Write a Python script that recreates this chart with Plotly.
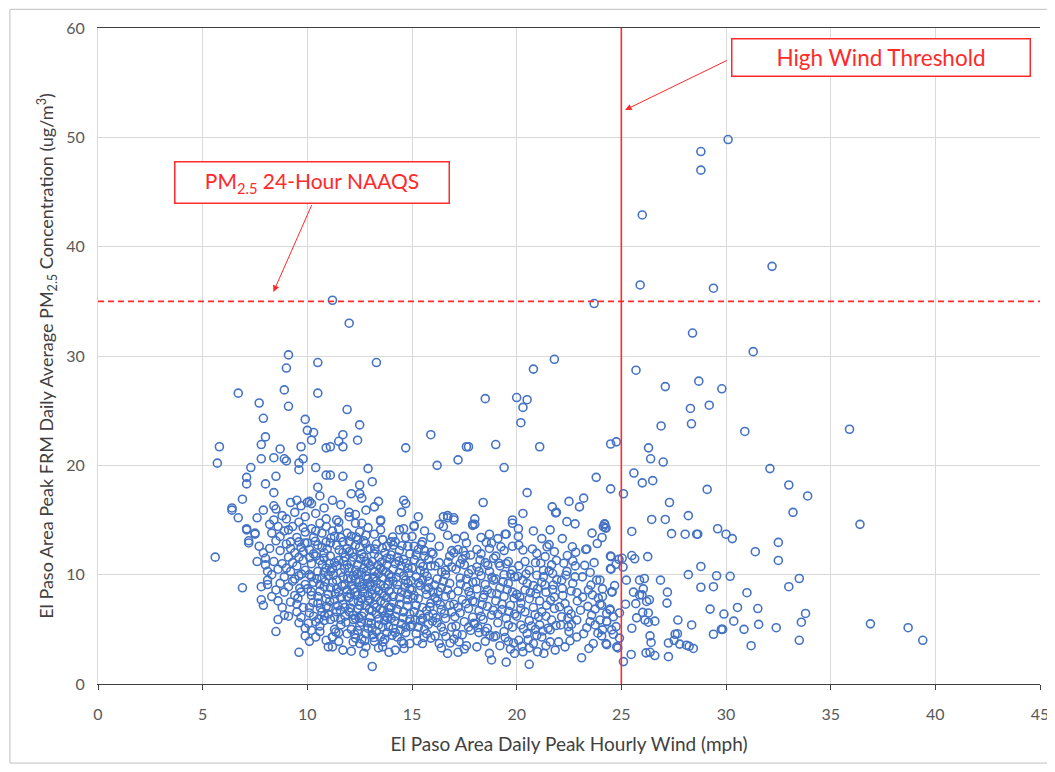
import plotly.graph_objects as go

# ---------------- data (wind mph, PM2.5 ug/m3) ----------------
NAAQS = 35
HIGH_WIND = 25

left_points = [
    (5.6, 11.6), (5.7, 20.2), (5.8, 21.7), (6.4, 16.1), (6.7, 26.6), (6.9, 16.9), (6.9, 8.8),
    (7.1, 18.9), (7.1, 18.3), (7.1, 14.1), (7.2, 13.1), (7.3, 19.8), (7.5, 13.7), (7.6, 15.2),
    (6.7, 15.2), (7.7, 25.7), (7.9, 24.3), (7.8, 21.9), (8.0, 22.6), (7.8, 20.6), (8.4, 20.7),
    (8.9, 20.6), (9.0, 20.4), (9.6, 20.2), (9.8, 20.6), (9.6, 19.6), (8.5, 19.0), (8.0, 18.3),
    (8.4, 17.5), (8.7, 21.5), (9.7, 21.7), (9.1, 30.1), (9.0, 28.9), (8.9, 26.9), (9.1, 25.4),
    (9.9, 24.2), (10.0, 23.2), (10.3, 23.0), (10.2, 22.3), (10.9, 21.6), (10.5, 29.4),
    (10.5, 26.6), (10.4, 19.8), (10.9, 19.1), (10.5, 18.0), (10.6, 17.2), (9.5, 16.8),
    (10.0, 16.6), (10.2, 16.5), (11.2, 16.8), (8.4, 16.3), (7.9, 15.9), (6.4, 15.9),
    (9.6, 2.9), (8.5, 4.8), (8.6, 5.9),
]

upper_mid_points = [
    (11.2, 35.1), (12.0, 33.0), (13.3, 29.4), (11.9, 25.1), (12.5, 23.7), (11.7, 22.8),
    (11.5, 22.2), (12.4, 22.3), (11.7, 21.7), (11.1, 21.7), (14.7, 21.6), (15.9, 22.8),
    (17.6, 21.7), (17.2, 20.5), (16.2, 20.0), (12.9, 19.7), (11.7, 19.0), (11.1, 19.1),
    (13.1, 18.5), (12.5, 18.2), (12.1, 17.4), (12.5, 17.4), (12.6, 17.0), (11.6, 16.4),
    (13.4, 16.7), (13.2, 16.2), (14.6, 16.8), (14.7, 16.5), (14.5, 15.7), (12.0, 15.7),
    (12.3, 15.5), (16.5, 15.3), (16.7, 15.4), (17.0, 15.2), (13.5, 15.0),
    (21.8, 29.7), (20.8, 28.8), (18.5, 26.1), (20.0, 26.2), (20.5, 26.0), (20.3, 25.3),
    (20.2, 23.9), (17.7, 21.7), (19.0, 21.9), (21.1, 21.7), (19.4, 19.8), (20.5, 17.5),
    (18.4, 16.6), (22.5, 16.7), (23.2, 17.0), (21.7, 16.2), (21.9, 15.7), (23.0, 16.2),
    (20.3, 15.6), (18.0, 15.1), (19.8, 15.0), (23.7, 34.8), (23.8, 18.9),
]

band_08_09 = [
    (7.7, 12.6), (7.9, 12.0), (8.0, 11.5), (8.0, 10.9), (8.1, 10.3), (8.1, 9.5), (7.8, 8.9),
    (8.1, 9.1), (7.8, 7.7), (7.9, 7.2), (8.5, 8.6), (8.3, 10.0), (8.4, 11.2), (8.2, 12.4),
    (8.5, 13.1), (8.3, 13.8), (8.6, 14.4), (8.4, 15.0), (8.8, 15.4), (8.9, 14.0), (8.7, 12.2),
    (8.8, 11.0), (8.6, 10.5), (8.9, 9.8), (8.7, 9.2), (8.9, 8.4), (8.6, 7.6), (8.8, 7.0),
    (8.9, 6.3), (9.0, 12.8), (8.2, 14.6), (7.6, 11.2), (8.3, 8.0), (8.7, 13.5), (8.5, 16.0),
    (7.1, 14.2), (7.5, 13.8), (7.2, 12.9),
]

band_09_10 = [
    (9.1, 6.2), (9.6, 5.6), (9.9, 5.1), (9.2, 7.5), (9.4, 8.1), (9.1, 8.9), (9.3, 9.4),
    (9.6, 9.9), (9.2, 10.3), (9.5, 10.8), (9.8, 11.3), (9.1, 11.6), (9.4, 12.0), (9.7, 12.5),
    (9.2, 13.0), (9.5, 13.4), (9.9, 13.9), (9.3, 14.4), (9.6, 14.8), (9.9, 15.3), (9.4, 15.7),
    (9.7, 16.3), (9.2, 16.6), (9.0, 10.6), (9.8, 7.0), (9.5, 6.6), (9.7, 8.4), (9.9, 9.1),
    (9.3, 11.1), (9.8, 12.1), (9.6, 13.0), (9.1, 14.1), (9.9, 10.4), (9.5, 7.3), (9.2, 12.4),
    (9.8, 14.3), (9.6, 11.6), (9.4, 9.6), (9.0, 15.1), (9.7, 6.1), (9.9, 4.4),
]

band_10_11 = [
    (10.1, 3.9), (10.4, 4.3), (10.9, 4.0), (11.0, 3.4), (10.2, 4.9), (10.6, 5.3), (10.8, 5.8),
    (10.3, 6.2), (10.7, 6.6), (10.1, 7.0), (10.5, 7.4), (10.9, 7.8), (10.2, 8.1), (10.6, 8.5),
    (10.8, 8.9), (10.3, 9.3), (10.7, 9.7), (10.1, 10.0), (10.5, 10.3), (10.9, 10.6), (10.2, 11.0),
    (10.6, 11.3), (10.4, 11.7), (10.8, 12.0), (10.1, 12.3), (10.5, 12.7), (10.9, 13.0),
    (10.3, 13.4), (10.7, 13.8), (10.2, 14.2), (10.6, 14.7), (10.9, 15.1), (10.4, 15.6),
    (10.8, 16.1), (10.1, 16.7), (10.4, 5.7), (10.0, 8.7), (10.8, 10.2), (10.3, 11.9),
    (10.6, 9.1), (10.1, 6.5), (10.9, 7.1), (10.7, 12.5), (10.4, 14.0), (10.6, 4.8), (10.2, 9.8),
    (10.8, 11.5), (10.5, 8.0), (10.0, 12.9), (10.9, 14.4),
]

band_11_12 = [
    (11.2, 3.4), (11.5, 3.9), (11.2, 4.3), (11.7, 3.1), (11.9, 4.6), (11.3, 5.0), (11.6, 5.4),
    (11.1, 5.9), (11.8, 6.2), (11.4, 6.6), (11.0, 7.0), (11.7, 7.3), (11.3, 7.7), (11.9, 8.0),
    (11.5, 8.4), (11.1, 8.8), (11.8, 9.1), (11.4, 9.5), (11.0, 9.9), (11.6, 10.2), (11.2, 10.6),
    (11.9, 10.9), (11.5, 11.3), (11.1, 11.7), (11.7, 12.0), (11.4, 12.7), (11.1, 12.9),
    (11.7, 13.0), (11.3, 13.5), (11.9, 13.8), (11.5, 14.2), (11.4, 15.0), (11.5, 14.8),
    (12.0, 15.3), (11.3, 6.1), (11.6, 7.9), (11.2, 9.3), (11.8, 11.6), (11.4, 10.8),
    (11.0, 8.2), (11.6, 5.9), (11.9, 12.4), (11.2, 14.0), (11.5, 4.7), (11.8, 7.0), (11.3, 11.1),
    (11.7, 9.8), (11.0, 6.4), (11.9, 8.6), (11.6, 13.4), (11.4, 8.7), (11.1, 10.3), (11.2, 4.3),
]

band_12_13 = [
    (12.1, 3.0), (12.5, 3.7), (12.7, 2.8), (12.3, 4.2), (12.8, 4.6), (12.1, 5.0), (12.5, 5.3),
    (12.9, 5.6), (12.2, 5.9), (12.6, 6.2), (12.0, 6.6), (12.4, 6.9), (12.8, 7.2), (12.2, 7.5),
    (12.6, 7.8), (12.9, 8.1), (12.3, 8.4), (12.7, 8.7), (12.1, 9.0), (12.5, 9.3), (12.9, 9.6),
    (12.2, 9.9), (12.6, 10.2), (12.0, 10.6), (12.4, 10.9), (12.8, 11.2), (12.2, 11.6),
    (12.6, 11.9), (12.9, 12.3), (12.3, 12.7), (12.7, 13.1), (12.1, 13.5), (12.5, 13.9),
    (12.9, 14.3), (12.3, 14.7), (12.6, 14.7), (12.8, 15.9), (12.4, 4.9), (12.7, 6.5),
    (12.0, 7.9), (12.4, 8.1), (12.8, 9.9), (12.1, 11.2), (12.5, 12.5), (12.9, 7.6), (12.2, 6.3),
    (12.6, 4.1), (12.3, 10.4), (12.7, 11.6), (12.0, 12.1), (12.4, 13.2), (12.8, 13.6),
    (12.6, 8.9), (12.2, 8.7), (12.9, 5.1), (12.5, 7.2), (12.1, 9.6), (12.7, 10.6), (12.3, 6.0),
    (12.8, 3.4), (12.0, 13.0),
]

band_13_14 = [
    (13.1, 1.6), (13.6, 3.4), (13.9, 2.9), (13.2, 3.9), (13.5, 4.3), (13.8, 4.7), (13.1, 5.1),
    (13.4, 5.4), (13.7, 5.8), (13.0, 6.1), (13.3, 6.4), (13.6, 6.7), (13.9, 7.0), (13.2, 7.3),
    (13.5, 7.6), (13.8, 7.9), (13.1, 8.2), (13.4, 8.5), (13.7, 8.8), (13.0, 9.1), (13.3, 9.4),
    (13.6, 9.7), (13.9, 10.0), (13.2, 10.3), (13.5, 10.6), (13.8, 10.9), (13.1, 11.2),
    (13.4, 11.6), (13.7, 12.0), (13.0, 12.4), (13.3, 12.8), (13.6, 13.2), (13.2, 13.7),
    (13.5, 14.1), (13.5, 14.9), (13.3, 4.8), (13.7, 6.2), (13.0, 7.7), (13.6, 8.3), (13.2, 9.8),
    (13.8, 11.5), (13.4, 10.1), (13.9, 8.5), (13.1, 6.7), (13.7, 4.1), (13.5, 9.1), (13.0, 10.8),
    (13.8, 12.6), (13.3, 7.0), (13.6, 5.2), (13.9, 9.4), (13.2, 11.9), (13.4, 3.3), (13.7, 7.4),
    (13.1, 4.5), (13.6, 10.4), (13.9, 6.5), (13.3, 8.8), (13.6, 13.2), (14.0, 13.0),
]

band_14_15 = [
    (14.2, 3.1), (14.6, 3.7), (14.9, 3.7), (14.3, 4.3), (14.7, 4.7), (14.1, 5.1), (14.5, 5.5),
    (14.9, 5.9), (14.2, 6.2), (14.6, 6.6), (14.0, 7.0), (14.4, 7.3), (14.8, 7.7), (14.1, 8.0),
    (14.5, 8.4), (14.9, 8.7), (14.3, 9.1), (14.7, 9.5), (14.0, 9.8), (14.4, 10.2), (14.8, 10.6),
    (14.2, 11.0), (14.6, 11.4), (14.0, 11.8), (14.4, 12.2), (14.8, 12.6), (14.1, 12.7),
    (14.2, 13.0), (14.4, 14.1), (14.6, 14.2), (14.3, 6.8), (14.7, 5.2), (14.1, 9.4),
    (14.5, 10.8), (14.9, 11.9), (14.2, 4.7), (14.8, 8.2), (14.4, 7.9), (14.6, 9.9), (14.0, 6.0),
    (14.9, 6.4), (14.3, 11.6), (14.7, 13.4), (14.1, 10.5), (14.5, 3.9), (14.8, 9.2),
    (15.1, 14.5),
]

band_15_16 = [
    (15.5, 3.7), (15.9, 4.2), (15.2, 4.6), (15.6, 5.0), (15.0, 5.4), (15.4, 5.8), (15.8, 6.2),
    (15.1, 6.6), (15.5, 7.0), (15.9, 7.4), (15.3, 7.8), (15.7, 8.2), (15.0, 8.6), (15.4, 9.0),
    (15.8, 9.4), (15.2, 9.8), (15.6, 10.2), (15.0, 10.6), (15.4, 11.0), (15.8, 11.4),
    (15.2, 11.8), (15.6, 12.2), (15.1, 12.6), (15.5, 13.0), (15.9, 13.4), (15.6, 14.0),
    (15.3, 15.3), (15.3, 5.2), (15.7, 6.7), (15.1, 8.1), (15.5, 9.5), (15.9, 10.8), (15.3, 12.3),
    (15.7, 4.6), (15.2, 7.2), (15.8, 8.8), (15.4, 10.4), (15.6, 11.7), (15.0, 13.5), (15.5, 6.0),
    (15.1, 14.4),
]

band_16_17 = [
    (16.3, 3.7), (16.7, 2.8), (16.1, 4.4), (16.5, 4.8), (16.9, 5.2), (16.2, 5.6), (16.6, 6.0),
    (16.0, 6.4), (16.4, 6.8), (16.8, 7.2), (16.2, 7.6), (16.6, 8.0), (16.0, 8.4), (16.4, 8.8),
    (16.8, 9.2), (16.2, 9.6), (16.6, 10.0), (16.6, 10.4), (16.3, 11.1), (16.8, 11.7),
    (16.3, 12.6), (16.7, 13.6), (16.5, 14.4), (16.7, 15.2), (16.3, 14.6), (17.0, 15.0),
    (16.9, 6.6), (16.1, 7.9), (16.5, 9.4), (16.9, 10.7), (16.4, 5.2), (16.7, 8.6), (16.1, 10.8),
    (16.9, 12.2), (16.0, 11.9), (16.4, 3.3),
]

band_17_18 = [
    (17.2, 2.9), (17.6, 3.5), (17.0, 4.1), (17.4, 4.5), (17.8, 4.9), (17.1, 5.3), (17.5, 5.7),
    (17.9, 6.1), (17.3, 6.5), (17.7, 6.9), (17.0, 7.3), (17.4, 7.7), (17.8, 8.1), (17.2, 8.5),
    (17.6, 8.9), (17.9, 9.3), (17.3, 9.7), (17.7, 10.1), (17.1, 10.5), (17.5, 10.9),
    (17.4, 11.4), (17.2, 12.3), (17.6, 12.9), (17.1, 13.3), (17.5, 13.5), (17.9, 14.6),
    (17.7, 5.2), (17.2, 7.0), (17.6, 9.6), (17.8, 11.8), (17.0, 12.0), (17.5, 3.2), (17.9, 7.6),
    (17.3, 11.0), (17.9, 14.5),
]

band_18_19 = [
    (18.7, 2.8), (18.8, 2.2), (18.1, 3.4), (18.5, 3.9), (18.9, 4.3), (18.2, 4.7), (18.6, 5.1),
    (18.0, 5.5), (18.4, 5.9), (18.8, 6.3), (18.2, 6.7), (18.6, 7.1), (18.0, 7.5), (18.4, 7.9),
    (18.8, 8.3), (18.1, 8.7), (18.5, 9.1), (18.9, 9.5), (18.3, 9.9), (18.7, 10.3), (18.1, 10.7),
    (18.5, 11.1), (18.9, 11.5), (18.3, 11.9), (18.7, 12.4), (18.3, 13.4), (18.7, 13.7),
    (18.0, 14.6), (18.3, 6.2), (18.6, 8.6), (18.2, 10.3), (18.8, 12.9), (18.5, 4.8),
    (18.1, 12.3), (19.1, 13.3), (19.5, 13.7),
]

band_19_20 = [
    (19.5, 2.0), (19.9, 2.8), (19.2, 3.5), (19.6, 3.9), (19.0, 4.4), (19.4, 4.8), (19.8, 5.2),
    (19.1, 5.6), (19.5, 6.0), (19.9, 6.4), (19.3, 6.8), (19.7, 7.2), (19.0, 7.6), (19.4, 8.0),
    (19.8, 8.4), (19.2, 8.8), (19.6, 9.2), (19.0, 9.6), (19.4, 10.0), (19.8, 10.4), (19.2, 10.8),
    (19.6, 11.2), (19.0, 11.7), (19.4, 12.2), (19.8, 12.6), (19.8, 14.7), (19.6, 5.4),
    (19.3, 7.3), (19.9, 9.8), (19.5, 11.0), (19.1, 6.4), (19.7, 3.2), (19.45, 13.7),
]

band_20_21 = [
    (20.6, 1.8), (20.3, 2.95), (20.8, 3.7), (20.96, 4.45), (20.1, 4.0), (20.5, 4.6), (20.9, 5.0),
    (20.2, 5.4), (20.6, 5.8), (20.0, 6.2), (20.4, 6.6), (20.8, 7.0), (20.2, 7.4), (20.6, 7.8),
    (20.0, 8.2), (20.4, 8.6), (20.8, 9.0), (20.3, 9.5), (20.96, 9.95), (20.6, 10.4), (20.1, 10.8),
    (20.4, 11.2), (20.96, 11.95), (20.3, 12.25), (20.08, 13.5), (20.08, 14.2), (20.8, 14.0),
    (20.7, 5.3), (20.2, 6.9), (20.5, 9.2), (20.9, 11.1), (20.1, 12.7), (20.6, 3.3),
]

band_21_22 = [
    (21.3, 2.8), (21.0, 2.95), (21.6, 3.85), (21.84, 3.1), (21.2, 4.3), (21.6, 4.95), (21.1, 5.4),
    (21.67, 5.85), (21.4, 6.2), (21.2, 6.6), (21.8, 6.9), (21.43, 7.2), (21.1, 7.6), (21.8, 7.95),
    (21.4, 8.4), (21.75, 9.05), (21.2, 9.3), (21.28, 9.8), (21.28, 10.4), (21.72, 10.1),
    (21.67, 10.9), (21.36, 11.65), (21.8, 12.1), (21.55, 12.75), (21.2, 13.3), (21.6, 14.1),
    (21.86, 15.65), (21.5, 5.1), (21.0, 8.7), (21.9, 11.3), (21.4, 3.5),
]

band_22_23 = [
    (22.31, 3.4), (22.0, 3.85), (22.87, 4.3), (22.5, 4.8), (22.47, 5.25), (22.87, 5.85),
    (22.15, 6.15), (22.6, 6.4), (22.47, 6.75), (22.31, 7.35), (22.9, 7.6), (22.2, 8.1),
    (22.18, 8.75), (22.68, 9.2), (22.15, 9.5), (22.79, 9.8), (22.4, 10.3), (22.8, 10.8),
    (22.68, 11.25), (22.42, 11.75), (22.66, 12.55), (22.18, 13.3), (22.79, 14.65), (22.4, 14.85),
    (22.1, 5.4), (22.6, 8.5),
]

band_23_24 = [
    (23.1, 2.4), (23.66, 3.7), (23.51, 5.7), (23.75, 5.4), (23.58, 6.3), (23.9, 7.85),
    (23.43, 8.6), (23.82, 9.5), (23.14, 9.8), (23.51, 10.2), (23.3, 12.3), (23.35, 12.35),
    (23.2, 4.6), (23.4, 7.1), (23.7, 11.1), (23.98, 9.5), (23.98, 7.3), (23.98, 5.85),
    (23.6, 13.8),
]

band_24_25 = [
    (24.2, 14.6), (24.14, 14.4), (24.27, 14.25), (24.08, 13.4), (24.48, 11.7), (24.48, 10.55),
    (24.89, 11.4), (24.1, 8.7), (24.54, 8.45), (24.06, 7.2), (24.46, 6.75), (24.3, 5.7),
    (24.62, 6.15), (24.54, 4.95), (24.06, 4.4), (24.3, 3.6), (24.78, 3.4), (24.49, 21.95),
    (24.76, 22.15), (24.49, 17.85), (24.2, 14.65), (24.22, 14.3), (24.51, 11.65), (24.51, 10.5),
    (24.75, 10.95), (24.1, 8.0), (24.56, 8.4), (24.68, 9.0), (24.3, 6.45), (24.46, 6.85),
    (24.91, 6.5), (24.1, 4.95), (24.3, 5.75), (24.27, 3.7), (24.62, 4.55), (24.75, 5.25),
    (24.83, 3.3), (24.91, 4.2),
]

dense_extra_a = [
    (9.55, 7.85), (9.72, 10.05), (9.88, 12.9), (9.64, 8.75), (10.05, 5.55), (10.27, 7.45),
    (10.46, 9.62), (10.63, 6.95), (10.85, 9.35), (10.12, 11.55), (10.38, 13.05), (10.72, 10.95),
    (10.95, 12.35), (10.55, 5.95), (10.18, 8.45), (10.82, 6.25), (11.07, 7.55), (11.33, 8.25),
    (11.58, 6.75), (11.84, 5.65), (11.25, 9.95), (11.52, 12.25), (11.78, 10.55), (11.12, 13.35),
    (11.45, 7.15), (11.66, 8.95), (11.93, 9.65), (11.36, 4.75), (11.74, 11.25), (11.05, 11.05),
    (12.06, 8.25), (12.32, 9.55), (12.58, 5.65), (12.84, 10.35), (12.15, 12.05), (12.44, 7.55),
    (12.71, 9.15), (12.96, 6.85), (12.25, 4.55), (12.52, 11.45), (12.78, 12.85), (12.07, 6.95),
    (12.38, 10.05), (12.65, 8.35), (12.91, 11.05), (12.19, 3.85), (12.47, 6.05), (12.74, 3.95),
    (12.33, 13.45), (12.88, 8.95),
]

dense_extra_b = [
    (13.05, 5.55), (13.28, 7.95), (13.55, 11.15), (13.82, 6.05), (13.14, 9.65), (13.42, 5.95),
    (13.68, 8.05), (13.95, 11.45), (13.22, 12.35), (13.48, 6.85), (13.75, 10.25), (13.08, 8.65),
    (13.36, 10.85), (13.62, 3.85), (13.88, 5.25), (13.18, 4.25), (13.58, 12.45), (13.85, 9.05),
    (14.05, 4.45), (14.32, 8.65), (14.58, 6.05), (14.85, 10.15), (14.12, 7.45), (14.38, 11.25),
    (14.65, 8.85), (14.92, 5.25), (14.25, 9.75), (14.52, 12.65), (14.78, 7.15), (14.08, 13.45),
    (14.45, 4.95), (14.72, 11.05), (14.95, 9.45), (14.18, 5.75), (14.62, 3.25), (15.05, 7.85),
    (15.32, 9.25), (15.58, 4.25), (15.85, 7.05), (15.12, 11.35), (15.38, 6.35), (15.65, 8.65),
    (15.92, 12.05), (15.25, 3.95), (15.52, 10.75), (15.78, 5.45), (15.15, 5.85), (15.45, 12.75),
    (15.72, 9.85), (15.98, 5.75), (16.08, 9.05), (16.35, 7.25), (16.62, 4.35), (16.88, 8.15),
    (16.15, 6.05), (16.42, 10.25), (16.72, 11.15), (16.25, 8.45), (16.55, 6.45), (16.82, 3.75),
]

dense_extra_c = [
    (17.05, 6.15), (17.32, 9.15), (17.58, 7.35), (17.85, 10.45), (17.15, 4.55), (17.45, 12.15),
    (17.72, 8.45), (17.25, 3.85), (17.95, 5.55), (17.55, 11.75), (18.05, 9.35), (18.35, 7.25),
    (18.62, 10.85), (18.88, 6.75), (18.15, 5.15), (18.45, 8.15), (18.72, 4.45), (18.25, 11.35),
    (18.55, 12.95), (18.82, 9.75), (19.05, 8.25), (19.35, 9.35), (19.62, 6.65), (19.88, 7.85),
    (19.15, 11.05), (19.45, 4.25), (19.72, 10.05), (19.25, 12.55), (19.55, 8.65), (19.85, 3.75),
    (20.05, 9.85), (20.32, 5.05), (20.65, 8.35), (20.88, 6.35), (20.15, 7.95), (20.45, 10.05),
    (20.75, 12.35), (20.25, 3.45), (20.55, 4.05), (20.92, 8.25), (21.05, 6.15), (21.35, 9.05),
    (21.62, 7.65), (21.88, 5.35), (21.15, 11.05), (21.45, 12.55), (21.72, 8.65), (21.25, 4.85),
    (21.55, 10.35), (21.92, 9.55), (22.05, 7.05), (22.35, 9.95), (22.62, 5.45), (22.88, 8.35),
    (22.25, 11.05), (22.55, 3.95), (22.82, 12.05), (22.45, 6.05), (23.05, 6.75), (23.35, 5.15),
    (23.62, 8.15), (23.88, 4.65), (23.25, 10.85), (23.55, 9.05), (23.75, 6.85), (23.15, 7.95),
    (23.45, 3.25), (23.85, 12.85),
]

high_wind_points = [
    (30.1, 49.8), (28.8, 48.7), (28.8, 47.0), (26.0, 42.9), (32.2, 38.2), (25.9, 36.5),
    (29.4, 36.2), (28.4, 32.1), (31.3, 30.4), (25.7, 28.7), (27.1, 27.2), (28.7, 27.7),
    (29.8, 27.0), (28.3, 25.2), (29.2, 25.5), (26.9, 23.6), (28.35, 23.8), (30.9, 23.1),
    (35.9, 23.3), (26.3, 21.6), (26.4, 20.6), (27.0, 20.3), (32.1, 19.7), (25.6, 19.3),
    (26.0, 18.4), (26.5, 18.6), (33.0, 18.2), (33.9, 17.2), (25.1, 17.4), (29.1, 17.8),
    (27.3, 16.6), (33.2, 15.7), (28.2, 15.4), (26.45, 15.05), (27.1, 15.05), (36.4, 14.6),
    (25.5, 13.95), (27.4, 13.75), (28.05, 13.7), (28.6, 13.7), (28.65, 13.7), (29.6, 14.2),
    (30.0, 13.7), (30.3, 13.3), (32.5, 12.95), (31.4, 12.1), (32.5, 11.3), (25.04, 11.5),
    (25.5, 11.75), (25.64, 11.45), (26.26, 11.65), (25.08, 10.7), (28.8, 10.75), (28.2, 10.0),
    (29.55, 9.9), (30.2, 9.85), (33.5, 9.65), (25.24, 9.5), (25.87, 9.5), (26.1, 9.65),
    (26.87, 9.5), (28.8, 8.85), (29.4, 8.9), (33.0, 8.9), (27.2, 8.4), (31.0, 8.35),
    (25.58, 8.4), (25.87, 8.15), (25.99, 8.15), (26.05, 8.7), (26.34, 7.7), (26.21, 7.55),
    (25.69, 7.35), (25.2, 7.3), (27.18, 7.4), (29.24, 6.85), (30.55, 7.0), (31.52, 6.9),
    (29.9, 6.4), (33.8, 6.45), (26.02, 6.55), (26.29, 6.5), (25.73, 6.05), (26.13, 5.85),
    (26.29, 5.65), (26.6, 5.75), (27.7, 5.85), (28.36, 5.4), (30.37, 5.75), (31.56, 5.45),
    (33.6, 5.65), (36.9, 5.5), (29.4, 4.55), (29.78, 5.0), (29.84, 5.0), (30.86, 5.0),
    (32.4, 5.15), (33.5, 4.0), (31.2, 3.5), (25.1, 2.05), (25.47, 2.7), (25.5, 5.1),
    (26.37, 4.4), (26.42, 3.8), (26.18, 2.85), (26.37, 2.9), (26.6, 2.6), (27.25, 3.75),
    (27.52, 4.0), (27.57, 4.55), (27.68, 4.6), (27.79, 3.65), (28.11, 3.55), (28.24, 3.45),
    (28.44, 3.25), (27.25, 2.5), (38.7, 5.15), (39.4, 4.0),
]

all_points = (left_points + upper_mid_points + band_08_09 + band_09_10 + band_10_11
              + band_11_12 + band_12_13 + band_13_14 + band_14_15 + band_15_16
              + band_16_17 + band_17_18 + band_18_19 + band_19_20 + band_20_21
              + band_21_22 + band_22_23 + band_23_24 + band_24_25
              + dense_extra_a + dense_extra_b + dense_extra_c + high_wind_points)
wind = [p[0] for p in all_points]
pm25 = [p[1] for p in all_points]

x_ticks = [0, 5, 10, 15, 20, 25, 30, 35, 40, 45]
y_ticks = [0, 10, 20, 30, 40, 50, 60]

RED = "#FF2A2A"
FONT = "Lato, 'Open Sans', sans-serif"

fig = go.Figure()
fig.add_trace(go.Scatter(
    x=wind, y=pm25, mode="markers", showlegend=False,
    marker=dict(symbol="circle-open", size=8, color="#4472C4", line=dict(width=1.6)),
))

# threshold lines
fig.add_shape(type="line", xref="x", yref="y", x0=HIGH_WIND, x1=HIGH_WIND, y0=0, y1=60,
              line=dict(color=RED, width=1.6))
fig.add_shape(type="line", xref="x", yref="y", x0=0, x1=45, y0=NAAQS, y1=NAAQS,
              line=dict(color=RED, width=1.6, dash="6px,4px"))

# label boxes
fig.add_annotation(x=10.2, y=45.85, xref="x", yref="y", showarrow=False,
                   text="PM<sub>2.5</sub> 24-Hour NAAQS",
                   font=dict(family=FONT, size=21, color=RED),
                   bgcolor="white", bordercolor=RED, borderwidth=1.5, borderpad=0,
                   width=273, height=40)
fig.add_annotation(x=37.42, y=57.3, xref="x", yref="y", showarrow=False,
                   text="High Wind Threshold",
                   font=dict(family=FONT, size=22.5, color=RED),
                   bgcolor="white", bordercolor=RED, borderwidth=1.5, borderpad=0,
                   width=297, height=36)
# arrows
fig.add_annotation(x=8.38, y=35.86, ax=10.24, ay=43.94, xref="x", yref="y",
                   axref="x", ayref="y", text="", showarrow=True,
                   arrowhead=2, arrowsize=1.3, arrowwidth=1, arrowcolor=RED)
fig.add_annotation(x=25.18, y=52.5, ax=30.11, ay=57.1, xref="x", yref="y",
                   axref="x", ayref="y", text="", showarrow=True,
                   arrowhead=2, arrowsize=1.3, arrowwidth=1, arrowcolor=RED)

# outer chart border
fig.add_shape(type="rect", xref="paper", yref="paper", x0=-0.0935, x1=1.0085, y0=-0.1205, y1=1.0285,
              line=dict(color="#BFBFBF", width=1), layer="below")

fig.update_layout(
    width=1046, height=756,
    margin=dict(l=90, r=14, t=20, b=80, autoexpand=False),
    paper_bgcolor="white", plot_bgcolor="white",
    font=dict(family=FONT, size=16, color="#595959"),
)
fig.update_xaxes(
    range=[0, 45], tickvals=x_ticks, showgrid=True, gridcolor="#D9D9D9", gridwidth=1,
    zeroline=False, showline=True, linecolor="#404040", linewidth=1.3, mirror=True,
    ticks="outside", ticklen=5, tickcolor="#404040", ticklabelstandoff=11, automargin=False,
    title=dict(text="El Paso Area Daily Peak Hourly Wind (mph)", standoff=15,
               font=dict(size=19, color="#404040")),
    tickfont=dict(size=16, color="#595959"),
)
fig.update_yaxes(
    range=[0, 60], tickvals=y_ticks, showgrid=True, gridcolor="#D9D9D9", gridwidth=1,
    zeroline=False, showline=True, linecolor="#D9D9D9", linewidth=1,
    ticks="", ticklabelstandoff=9, automargin=False,
    title=dict(text="El Paso Area Peak FRM Daily Average PM<sub>2.5</sub> Concentration (ug/m<sup>3</sup>)",
               standoff=7, font=dict(size=18, color="#404040")),
    tickfont=dict(size=16, color="#595959"),
)

fig.write_html("out.html")
